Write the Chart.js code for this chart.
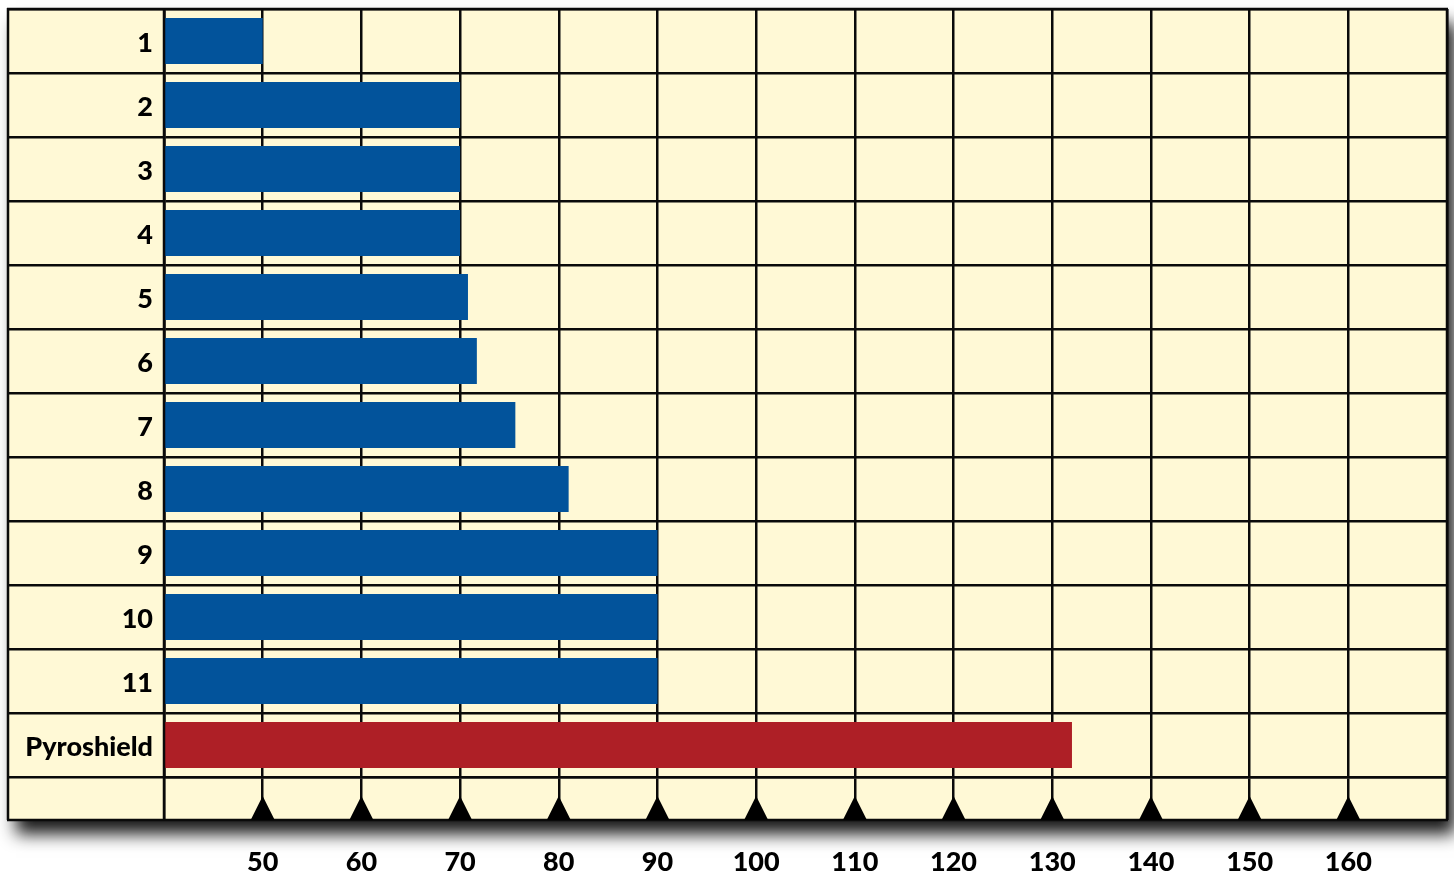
<!DOCTYPE html>
<html><head><meta charset="utf-8">
<script src="https://cdn.jsdelivr.net/npm/chart.js@4.4.1/dist/chart.umd.min.js"></script>
<style>html,body{margin:0;padding:0;background:#fff;overflow:hidden}#wrap{width:1454px;height:873px;position:relative}</style>
</head><body><div id="wrap"><canvas id="c" width="1454" height="873"></canvas></div>
<script>
const categories = ['1','2','3','4','5','6','7','8','9','10','11','Pyroshield'];
const values = [50, 70, 70, 70, 70.8, 71.7, 75.6, 81, 90, 90, 90, 132];
const axisMin = 40, axisMax = 170, axisStep = 10;
const tickLabels = [50, 60, 70, 80, 90, 100, 110, 120, 130, 140, 150, 160];
const highlight = 'Pyroshield';

const CREAM = '#FFF9D6', BLUE = '#02539B', RED = '#AE1F26', LINE = '#0a0a0a';
const FONT = 'Lato, "Open Sans", sans-serif';
const EXTRA_ROW = 43;

const frame = {
  id: 'frame',
  beforeDraw(chart) {
    const {ctx, chartArea: ca} = chart;
    const L = chart.options.layout.padding.left, T = ca.top, R = ca.right, B = ca.bottom + EXTRA_ROW;
    ctx.save();
    ctx.fillStyle = '#fff'; ctx.fillRect(0, 0, chart.width, chart.height);
    ctx.shadowColor = 'rgba(0,0,0,0.9)';
    ctx.shadowOffsetX = 8; ctx.shadowOffsetY = 14; ctx.shadowBlur = 16;
    ctx.fillStyle = CREAM; ctx.fillRect(L, T, R - L, B - T);
    ctx.restore();
  },
  afterDatasetsDraw(chart) {
    const {ctx, chartArea: ca, scales} = chart;
    const L = chart.options.layout.padding.left, T = ca.top, R = ca.right, B = ca.bottom + EXTRA_ROW;
    ctx.save();
    ctx.strokeStyle = LINE; ctx.lineWidth = 2.5;
    ctx.beginPath();
    ctx.moveTo(L, T - 1); ctx.lineTo(L, B);
    ctx.moveTo(L - 1, B); ctx.lineTo(R + 1, B);
    ctx.moveTo(ca.left, T); ctx.lineTo(ca.left, B);
    ctx.moveTo(L - 1, T); ctx.lineTo(R + 1, T);
    ctx.moveTo(R, T); ctx.lineTo(R, B);
    ctx.stroke();
    ctx.fillStyle = '#000';
    tickLabels.forEach(v => {
      const px = scales.x.getPixelForValue(v);
      ctx.beginPath();
      ctx.moveTo(px - 12, B); ctx.lineTo(px, B - 24); ctx.lineTo(px + 12, B);
      ctx.closePath(); ctx.fill();
    });
    ctx.restore();
  }
};

new Chart(document.getElementById('c'), {
  type: 'bar',
  data: {
    labels: categories,
    datasets: [{
      data: values,
      backgroundColor: categories.map(c => c === highlight ? RED : BLUE),
      borderWidth: 0,
      barPercentage: 0.72,
      categoryPercentage: 1
    }]
  },
  options: {
    indexAxis: 'y',
    responsive: false,
    animation: false,
    layout: {padding: {left: 8, top: 9, right: 7, bottom: 0}},
    plugins: {legend: {display: false}, tooltip: {enabled: false}},
    scales: {
      x: {
        type: 'linear', min: axisMin, max: axisMax,
        grid: {color: LINE, lineWidth: 2.5, tickLength: EXTRA_ROW, drawTicks: true},
        border: {color: LINE, width: 2.5},
        ticks: {
          stepSize: axisStep, autoSkip: false, maxRotation: 0,
          padding: 26, color: '#000',
          font: {family: FONT, size: 27, weight: 900},
          callback: v => tickLabels.includes(v) ? String(v) : ''
        },
        afterFit: s => { s.height = 96; s.paddingLeft = 0; s.paddingRight = 0; }
      },
      y: {
        grid: {color: LINE, lineWidth: 2.5, tickLength: 156, drawTicks: true, offset: true},
        border: {color: LINE, width: 2.5},
        ticks: {
          padding: -145, color: '#000', labelOffset: 2,
          font: {family: FONT, size: 27, weight: 900}
        },
        afterFit: s => { s.width = 156; s.paddingTop = 0; s.paddingBottom = 0; }
      }
    }
  },
  plugins: [frame]
});
</script>
</body></html>
